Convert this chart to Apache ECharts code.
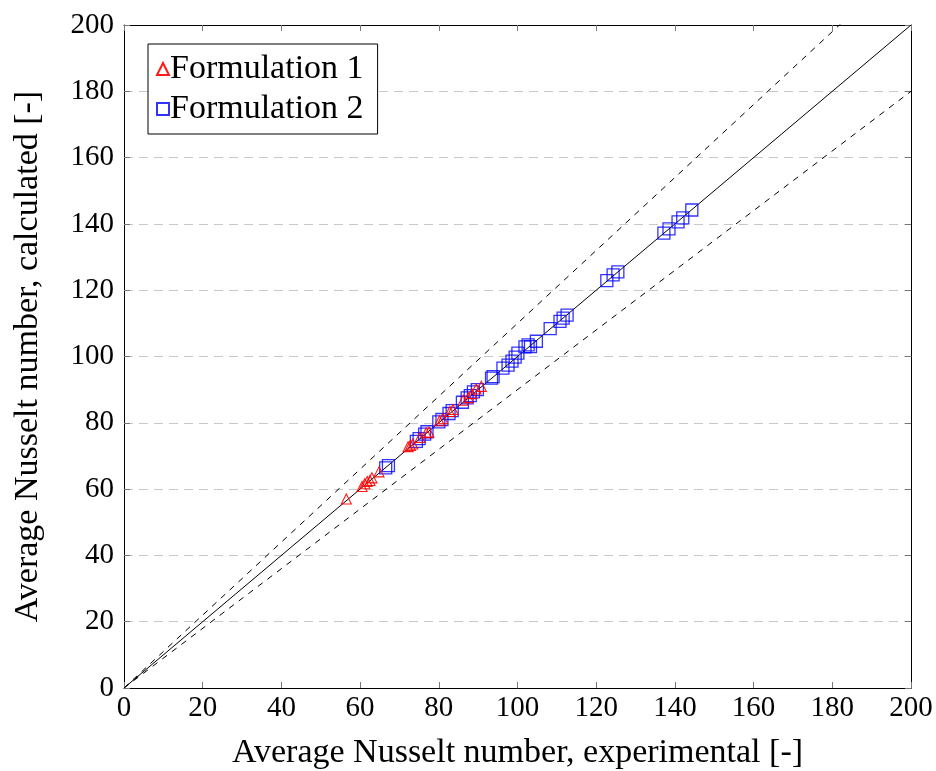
<!DOCTYPE html>
<html>
<head>
<meta charset="utf-8">
<script src="https://cdn.jsdelivr.net/npm/echarts@6/dist/echarts.min.js"></script>
<style>
  html, body { margin: 0; padding: 0; background: #fff; }
  #chart { width: 936px; height: 771px; }
</style>
</head>
<body>
<div id="chart"></div>
<script>
// Average Nusselt number: experimental (x) vs calculated (y)
const formulation1 = [
  [56.5, 57.0], [60.5, 60.8], [61.2, 61.6], [61.8, 62.3], [62.5, 62.6], [63.0, 63.4],
  [64.8, 65.2], [72.2, 72.8], [72.8, 73.2], [73.4, 73.6], [75.2, 75.6], [76.8, 77.0],
  [77.5, 77.2], [80.2, 80.6], [81.0, 81.2], [82.8, 83.4], [83.6, 84.0], [86.2, 86.8],
  [87.5, 87.6], [88.4, 88.8], [89.5, 90.2], [90.8, 91.0]
];
const formulation2 = [
  [66.5, 66.4], [67.2, 67.1], [74.3, 74.4], [75.0, 75.2], [76.4, 76.6], [77.0, 77.3],
  [80.0, 80.3], [80.8, 81.0], [82.6, 82.8], [83.4, 83.7], [86.0, 86.2], [87.2, 87.5],
  [88.0, 88.2], [88.8, 89.3], [89.8, 90.0], [93.4, 93.5], [93.8, 93.9], [96.3, 96.5],
  [97.6, 97.4], [98.6, 98.6], [99.4, 99.8], [100.1, 101.0], [101.9, 102.9], [102.7, 103.5],
  [103.3, 103.0], [104.8, 104.6], [108.3, 108.4], [110.8, 110.6], [111.6, 111.6],
  [112.6, 112.5], [122.7, 122.9], [124.3, 124.6], [125.5, 125.5], [137.2, 137.2],
  [138.5, 138.5], [140.8, 140.6], [142.0, 141.8], [144.3, 144.2]
];
// Perfect agreement and ±10 % bands
const parityLine = [[0, 0], [200, 200]];
const upperBand = [[0, 0], [200, 220]];
const lowerBand = [[0, 0], [200, 180]];

const axisMin = 0, axisMax = 200, axisStep = 20;
const xTitle = 'Average Nusselt number, experimental [-]';
const yTitle = 'Average Nusselt number, calculated [-]';
const seriesNames = ['Formulation 1', 'Formulation 2'];

const FONT = '"Liberation Serif", "DejaVu Serif", serif';

const chart = echarts.init(document.getElementById('chart'), null, { renderer: 'canvas' });

const baseAxis = {
  type: 'value', min: axisMin, max: axisMax, interval: axisStep,
  axisLine: { show: true, onZero: false, lineStyle: { color: '#000', width: 1 } },
  axisTick: { show: true, inside: true, length: 6, lineStyle: { color: '#777', width: 1 } },
  splitLine: { show: false }
};

chart.setOption({
  animation: false,
  backgroundColor: '#fff',
  grid: {
    left: 124, right: 25, top: 25, bottom: 83,
    containLabel: false, outerBoundsMode: 'none'
  },
  legend: {
    orient: 'vertical', left: 148, top: 44,
    data: seriesNames,
    itemWidth: 12, itemHeight: 12, itemGap: 6,
    padding: [8, 14, 8, 8],
    borderColor: '#000', borderWidth: 1, borderRadius: 0,
    backgroundColor: '#fff',
    textStyle: { fontFamily: FONT, fontSize: 34, color: '#000', padding: [0, 0, 0, -4] }
  },
  xAxis: [
    Object.assign({}, baseAxis, {
      position: 'bottom',
      name: xTitle, nameLocation: 'middle', nameGap: 48,
      nameTextStyle: { fontFamily: FONT, fontSize: 34, color: '#000' },
      axisLabel: { fontFamily: FONT, fontSize: 29, color: '#000', margin: 6 }
    }),
    Object.assign({}, baseAxis, { position: 'top', axisLabel: { show: false } })
  ],
  yAxis: [
    Object.assign({}, baseAxis, {
      position: 'left',
      name: yTitle, nameLocation: 'middle', nameGap: 79,
      nameTextStyle: { fontFamily: FONT, fontSize: 34, color: '#000' },
      axisLabel: { fontFamily: FONT, fontSize: 29, color: '#000', margin: 10 },
      splitLine: { show: true, lineStyle: { color: '#c8c8c8', type: [9, 6], width: 1 } }
    }),
    Object.assign({}, baseAxis, { position: 'right', axisLabel: { show: false } })
  ],
  series: [
    {
      type: 'line', data: parityLine, showSymbol: false, silent: true, z: 1,
      lineStyle: { color: '#000', width: 1 }
    },
    {
      type: 'line', data: upperBand, showSymbol: false, silent: true, z: 1,
      lineStyle: { color: '#000', width: 1, type: [6, 6] }
    },
    {
      type: 'line', data: lowerBand, showSymbol: false, silent: true, z: 1,
      lineStyle: { color: '#000', width: 1, type: [6, 6] }
    },
    {
      name: seriesNames[0], type: 'scatter', data: formulation1, z: 3,
      symbol: 'triangle', symbolSize: 10,
      itemStyle: { color: 'rgba(0,0,0,0)', borderColor: '#ff0000', borderWidth: 1.1, opacity: 0.9 }
    },
    {
      name: seriesNames[1], type: 'scatter', data: formulation2, z: 2,
      symbol: 'rect', symbolSize: 12,
      itemStyle: { color: 'rgba(0,0,0,0)', borderColor: '#0000ff', borderWidth: 1.3, opacity: 0.8 }
    }
  ]
});
</script>
</body>
</html>
